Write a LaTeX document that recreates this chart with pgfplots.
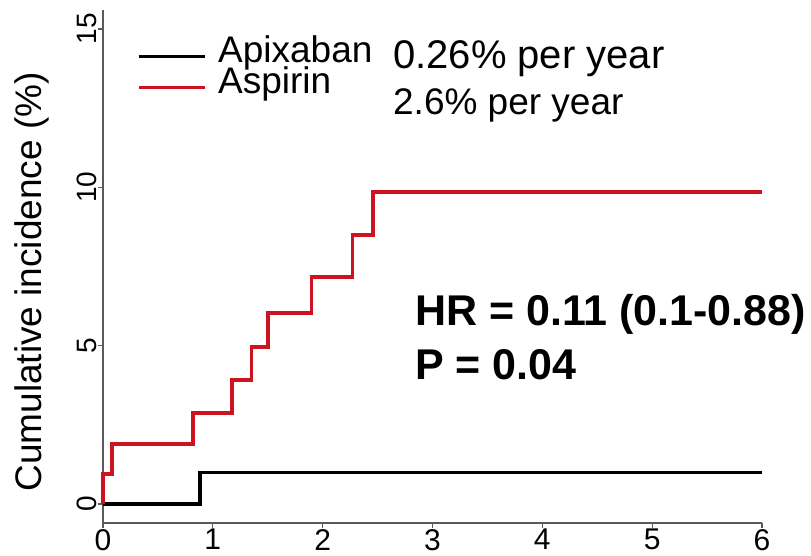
\documentclass[border=0pt]{standalone}
\usepackage{fontspec}
\setmainfont{Liberation Sans}
\usepackage{pgfplots}
\pgfplotsset{compat=1.18}

\definecolor{aspred}{RGB}{204,20,32}
\definecolor{axgray}{RGB}{90,90,90}

\begin{document}
\begin{tikzpicture}
  \useasboundingbox (0pt,0pt) rectangle (811pt,556pt);
  \begin{axis}[
    at={(103pt,33pt)}, anchor=south west,
    scale only axis, width=659pt, height=513pt,
    xmin=0, xmax=6, ymin=-0.6, ymax=15.6,
    axis x line*=bottom, axis y line*=left,
    axis line style={axgray, line width=1.2pt},
    xtick={0,1,2,3,4,5,6}, ytick={0,5,10,15},
    tick align=outside, major tick length=5pt,
    tick style={axgray, line width=1.2pt},
    /pgf/number format/assume math mode=true,
    ticklabel style={font=\fontsize{28}{28}\selectfont, inner sep=1pt},
    yticklabel style={rotate=90, anchor=south},
    xticklabel style={anchor=north, font=\fontsize{30}{30}\selectfont},
    ylabel={Cumulative incidence (\%)},
    ylabel style={font=\fontsize{37}{37}\selectfont,
      at={([xshift=-61pt]rel axis cs:0,0.47)}, anchor=base, inner sep=0pt},
    clip=false,
    legend cell align=left,
    legend image code/.code={\draw[#1, line width=3pt] (0pt,0pt) -- (66pt,0pt);},
    legend style={draw=none, fill=none, at={(0.0516,0.94)}, anchor=north west,
      font=\fontsize{37}{37}\selectfont, inner sep=0pt, row sep=0pt,
      nodes={inner sep=0pt, text height=22pt, text depth=9pt},
      /tikz/every odd column/.append style={column sep=12pt}},
  ]
    % Apixaban
    \addplot[const plot, black, line width=3.5pt] coordinates {
      (0,0) (0.883,1.0) (6,1.0)
    };
    % Aspirin
    \addplot[const plot, aspred, line width=3.5pt] coordinates {
      (0,0) (0,0.95) (0.08,1.9) (0.82,2.87) (1.175,3.92) (1.35,4.96)
      (1.50,6.03) (1.90,7.17) (2.27,8.49) (2.46,9.85) (6,9.85)
    };
    \legend{Apixaban, Aspirin}

    \node[anchor=base west, inner sep=0pt, font=\fontsize{40}{40}\selectfont] at (axis cs:2.64,13.74) {0.26\% per year};
    \node[anchor=base west, inner sep=0pt, font=\fontsize{37}{37}\selectfont] at (axis cs:2.64,12.31) {2.6\% per year};
    \node[anchor=base west, inner sep=0pt, font=\fontsize{43}{43}\selectfont\bfseries] at (axis cs:2.84,5.65) {HR = 0.11 (0.1-0.88)};
    \node[anchor=base west, inner sep=0pt, font=\fontsize{43}{43}\selectfont\bfseries] at (axis cs:2.84,3.92) {P = 0.04};
  \end{axis}
\end{tikzpicture}
\end{document}
